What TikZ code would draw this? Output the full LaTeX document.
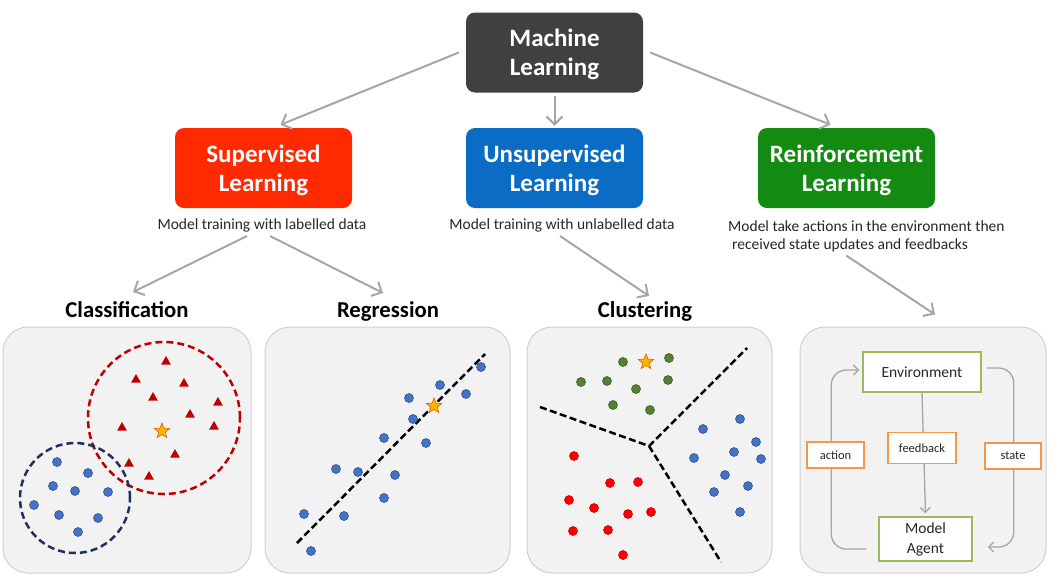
\documentclass[tikz,border=0pt]{standalone}
\usepackage{fontspec}
\setmainfont{Carlito}
\usetikzlibrary{positioning,arrows.meta,shapes.geometric}
\definecolor{mlgray}{HTML}{404040}
\definecolor{supred}{HTML}{FF2A00}
\definecolor{unsupblue}{HTML}{0A6CC4}
\definecolor{reingreen}{HTML}{138A12}
\definecolor{ink}{HTML}{262626}
\definecolor{linkgray}{HTML}{A6A6A6}
\definecolor{panelfill}{HTML}{F2F2F2}
\definecolor{panelline}{HTML}{D0D0D0}
\definecolor{dotblue}{HTML}{4472C4}
\definecolor{dotblueline}{HTML}{2F528F}
\definecolor{dotgreen}{HTML}{548235}
\definecolor{dotgreenline}{HTML}{3B5E24}
\definecolor{dotred}{HTML}{FF0000}
\definecolor{darkred}{HTML}{C00000}
\definecolor{navy}{HTML}{1F3060}
\definecolor{starfill}{HTML}{FFB400}
\definecolor{starline}{HTML}{E06C10}
\definecolor{envgreen}{HTML}{9BBB59}
\definecolor{lblorange}{HTML}{F79646}

\tikzset{
  mlbox/.style={rounded corners=9pt, minimum width=177pt, minimum height=80pt,
    align=center, text=white, font=\fontsize{25}{29}\selectfont\bfseries,
    text depth=-3pt},
  caption/.style={text=ink, font=\fontsize{15.5}{18}\selectfont, inner sep=1pt},
  heading/.style={font=\fontsize{22.7}{26}\selectfont\bfseries, inner sep=1pt, anchor=base},
  link/.style={draw=linkgray, line width=2pt, -{Straight Barb[length=8pt,width=16pt]}},
  panel/.style={fill=panelfill, draw=panelline, line width=1pt, rounded corners=25pt,
    minimum height=246pt, inner sep=0pt},
  bdot/.style={fill=dotblue, draw=dotblueline, line width=0.6pt},
  gdot/.style={fill=dotgreen, draw=dotgreenline, line width=0.6pt},
  rdot/.style={fill=dotred, draw=darkred!70!dotred, line width=0.6pt},
  tri/.style={fill=darkred},
  orangestar/.style={star, star points=5, star point ratio=2.3, minimum size=16pt,
    inner sep=0pt, fill=starfill, draw=starline, line width=0.7pt},
  splitline/.style={draw=black, line width=2.5pt, dash pattern=on 7pt off 3.5pt},
  rlbox/.style={draw=envgreen, fill=white, line width=1.5pt, align=center,
    font=\fontsize{15.5}{20}\selectfont, text=ink},
  rllabel/.style={draw=lblorange, fill=white, line width=1.5pt,
    font=\fontsize{12.5}{15}\selectfont, text=ink},
  flow/.style={draw=linkgray, line width=1.3pt, rounded corners=15pt,
    -{Straight Barb[length=5pt,width=10pt]}}
}

\begin{document}
\begin{tikzpicture}[x=1pt, y=-1pt]
\useasboundingbox (0,0) rectangle (1051,576);

% top level
\node[mlbox, fill=mlgray] (ml) at (554.5,52.5) {Machine\\Learning};
\node[mlbox, fill=supred] (sup) at (263.5,168) {Supervised\\Learning};
\node[mlbox, fill=unsupblue] (unsup) at (554.5,168) {Unsupervised\\Learning};
\node[mlbox, fill=reingreen] (rein) at (846.5,168) {Reinforcement\\Learning};

\draw[link] ([xshift=-7pt]ml.west) -- ([xshift=17pt,yshift=3pt]sup.north);
\draw[link] ([yshift=-3pt]ml.south) -- ([yshift=2pt]unsup.north);
\draw[link] ([xshift=7pt]ml.east) -- ([xshift=-16pt,yshift=3pt]rein.north);

\node[caption, anchor=base] (supcap) at (262,229) {Model training with labelled data};
\node[caption, anchor=base] (unsupcap) at (562,229) {Model training with unlabelled data};
\node[caption, align=left, anchor=north west] (reincap) at (727,220)
  {Model take actions in the environment then\\\hspace*{4pt}received state updates and feedbacks};

\node[heading] (class) at (127,317) {Classification};
\node[heading] (reg) at (388,317) {Regression};
\node[heading] (clust) at (645,317) {Clustering};

% panels
\node[panel, minimum width=248pt] (clspanel) at (127,450) {};
\node[panel, minimum width=245pt] (regpanel) at (387.5,450) {};
\node[panel, minimum width=245pt] (clupanel) at (649.5,450) {};
\node[panel, minimum width=246pt] (rlpanel) at (923,450) {};

\draw[link] ([xshift=-15pt,yshift=-7pt]supcap.base) -- ([xshift=6pt,yshift=25pt]class.base);
\draw[link] ([xshift=8pt,yshift=-7pt]supcap.base) -- ([xshift=-5pt,yshift=24pt]reg.base);
\draw[link] ([xshift=-2pt,yshift=-7pt]unsupcap.base) -- ([xshift=4pt,yshift=21pt]clust.base);
\draw[link] ([xshift=-20pt,yshift=-2pt]reincap.south) -- ([xshift=12pt,yshift=12pt]rlpanel.north);

% classification
\draw[darkred, line width=2.5pt, dash pattern=on 7pt off 4pt] (164,418) circle[radius=76pt];
\draw[navy, line width=2.5pt, dash pattern=on 7pt off 4pt] (75,498) circle[radius=55pt];
\foreach \x/\y in {166/361,136/379,184/383,153/397,218/402,190/414,122/427,214/426,175/454,129/463,149/476}
  \fill[tri] (\x,\y) ++(0,-5) -- ++(4.8,8.5) -- ++(-9.6,0) -- cycle;
\node[orangestar] (clsstar) at (162,431) {};
\foreach \x/\y in {57/462,88/473,53/486,75/491,108/492,34/505,59/515,98/518,78/532}
  \draw[bdot] (\x,\y) circle[radius=4.5pt];

% regression
\draw[splitline] (297,543) -- (485,354);
\foreach \x/\y in {481/367,440/385,466/394,409/398,413/419,384/438,426/443,336/469,358/472,395/475,384/498,304/514,344/516,311/551}
  \draw[bdot] (\x,\y) circle[radius=4.5pt];
\node[orangestar] (regstar) at (434,406) {};

% clustering
\draw[splitline] (540,407) -- (649,446) -- (747,348);
\draw[splitline] (649,446) -- (721,562);
\foreach \x/\y in {623/362,669/358,581/382,607/381,636/389,668/380,613/405,650/410}
  \draw[gdot] (\x,\y) circle[radius=4.5pt];
\node[orangestar] (clustar) at (646,362) {};
\foreach \x/\y in {740/419,703/429,756/442,734/452,694/458,761/459,725/475,748/486,714/492,740/512}
  \draw[bdot] (\x,\y) circle[radius=4.5pt];
\foreach \x/\y in {574/456,610/483,638/482,569/500,594/508,628/514,651/512,573/531,608/530,623/555}
  \draw[rdot] (\x,\y) circle[radius=4.5pt];

% reinforcement loop
\node[rlbox, minimum width=118pt, minimum height=40pt] (env) at (922,372) {Environment};
\node[rlbox, minimum width=93pt, minimum height=44pt, inner sep=1pt] (agent) at (925.5,539) {Model\\Agent};
\draw[flow] ([xshift=-12pt,yshift=-10pt]agent.west) -- ++(-35,0) |- ([xshift=-3pt,yshift=2pt]env.west);
\draw[flow] ([xshift=5pt,yshift=4pt]env.east) -- ++(27,0) |- ([xshift=15pt,yshift=-8pt]agent.east);
\draw[flow] (env.south) -- ([yshift=3pt]agent.north);
\node[rllabel, minimum width=68pt, minimum height=31pt] (fb) at (922,448) {feedback};
\node[rllabel, minimum width=57pt, minimum height=26pt] (act) at (835.5,455) {action};
\node[rllabel, minimum width=56pt, minimum height=26pt] (st) at (1013,456) {state};
\end{tikzpicture}
\end{document}
